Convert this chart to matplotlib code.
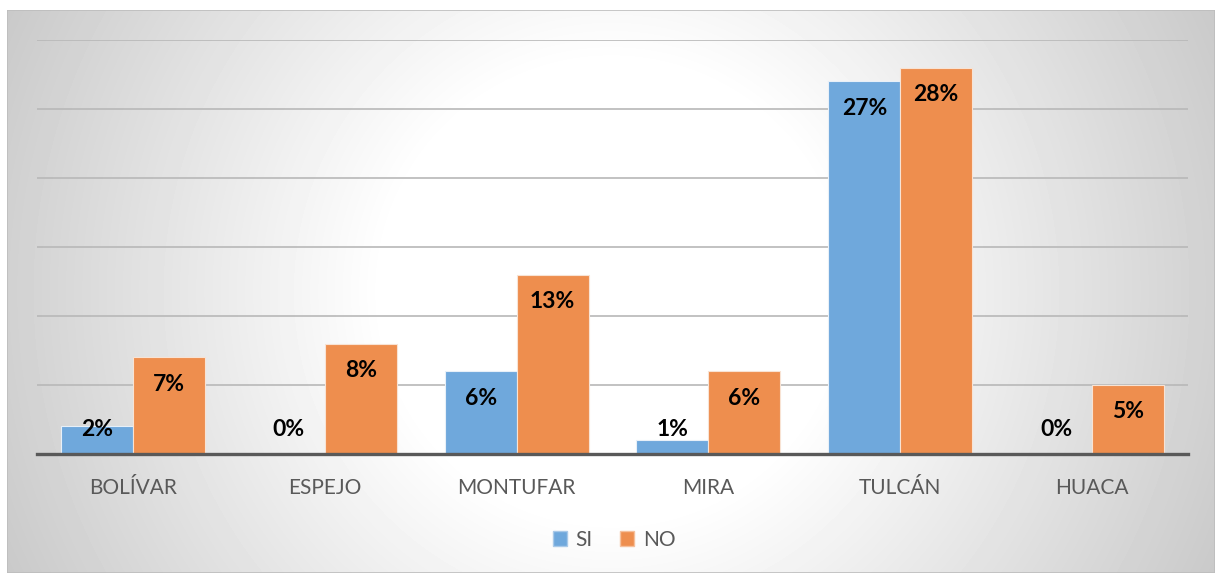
import numpy as np
import matplotlib.pyplot as plt
from matplotlib.patches import Rectangle, Patch

# Porcentaje de respuestas por cantón
cantones = ["BOLÍVAR", "ESPEJO", "MONTUFAR", "MIRA", "TULCÁN", "HUACA"]
si = [2, 0, 6, 1, 27, 0]
no = [7, 8, 13, 6, 28, 5]

plt.rcParams["font.family"] = ["Lato", "DejaVu Sans"]

W, H = 1218, 574
fig = plt.figure(figsize=(W / 100, H / 100), dpi=100)
fig.patch.set_facecolor("white")

# fondo con degradado radial (blanco al centro, gris en los bordes)
x0, x1, y0, y1 = 7, 1215, 10, 573
bg = fig.add_axes([x0 / W, 1 - y1 / H, (x1 - x0) / W, (y1 - y0) / H])
xx, yy = np.meshgrid(np.arange(x0, x1), np.arange(y0, y1))
r = np.hypot(xx - 611, yy - 291)
val = 1 - 0.00048 * np.clip(r - 228, 0, None)
bg.imshow(val, cmap="gray", vmin=0, vmax=1, aspect="auto",
          interpolation="bilinear")
bg.add_patch(Rectangle((0, 0), 1, 1, transform=bg.transAxes, fill=False,
                       edgecolor="#bdbdbd", lw=1.2))
bg.set_axis_off()

ax = fig.add_axes([37 / W, 1 - 454 / H, (1188 - 37) / W, (454 - 40) / H])
ax.set_facecolor("none")

x = np.arange(len(cantones))
w = 0.375
ax.bar(x - w / 2, si, w, color="#6fa8dc", edgecolor="#e8f0f8",
       linewidth=0.8, label="SI", zorder=3)
ax.bar(x + w / 2, no, w, color="#ee8e4e", edgecolor="#f8e3d4",
       linewidth=0.8, label="NO", zorder=3)

# etiquetas de datos dentro del extremo de cada barra
for pos, vals in ((x - w / 2, si), (x + w / 2, no)):
    for xi, v in zip(pos, vals):
        ax.text(xi, max(v - 1.95, 1.75), f"{v}%", ha="center", va="center",
                fontsize=16.5, fontweight="bold", color="black", zorder=4)

ax.set_xlim(-0.5, len(cantones) - 0.5)
ax.set_ylim(0, 30)
ax.set_yticks(np.arange(5, 31, 5))
ax.yaxis.grid(True, color="#b8b8b8", linewidth=1.2, zorder=0)
ax.set_axisbelow(True)
ax.tick_params(axis="y", left=False, labelleft=False)
ax.tick_params(axis="x", length=0, pad=17, labelsize=15, labelcolor="#595959")
ax.set_xticks(x)
ax.set_xticklabels(cantones)
for s in ("top", "right", "left"):
    ax.spines[s].set_visible(False)
ax.spines["bottom"].set_color("#595959")
ax.spines["bottom"].set_linewidth(2.4)
ax.spines["bottom"].set_zorder(5)

handles = [Patch(facecolor="#6fa8dc", edgecolor="#a9c9e8"),
           Patch(facecolor="#ee8e4e", edgecolor="#f5c09c")]
leg = fig.legend(handles, ["SI", "NO"], loc="center",
                 bbox_to_anchor=(614 / W, 1 - 540 / H), ncol=2,
                 frameon=False, handlelength=0.7, handleheight=0.7,
                 handletextpad=0.4, columnspacing=1.3, fontsize=15)
for t in leg.get_texts():
    t.set_color("#595959")

fig.savefig("out.png", dpi=100, facecolor="white")
